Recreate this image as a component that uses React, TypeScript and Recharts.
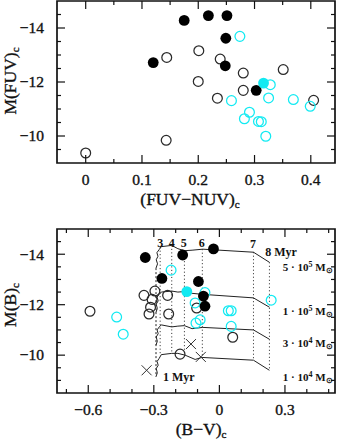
import React from 'react';
import { ScatterChart, Scatter, XAxis, YAxis, ReferenceArea } from 'recharts';

const SERIF = '"Liberation Serif", "Times New Roman", serif';
const CYAN = '#12eaf2';
const INK = '#111';

// ---- top panel: M(FUV) vs (FUV-NUV) ----
const fuvFilledBlack = [
  { x: 0.175, y: -14.28 }, { x: 0.218, y: -14.46 }, { x: 0.251, y: -14.46 },
  { x: 0.249, y: -13.62 }, { x: 0.12, y: -12.72 }, { x: 0.248, y: -12.6 },
  { x: 0.303, y: -11.69 },
];
const fuvFilledCyan = [{ x: 0.316, y: -11.96 }];
const fuvOpenBlack = [
  { x: 0.0, y: -9.37 }, { x: 0.143, y: -9.84 }, { x: 0.144, y: -12.91 },
  { x: 0.201, y: -13.16 }, { x: 0.2, y: -12.02 }, { x: 0.239, y: -12.85 },
  { x: 0.234, y: -11.4 }, { x: 0.28, y: -12.33 }, { x: 0.28, y: -11.69 },
  { x: 0.351, y: -12.46 }, { x: 0.405, y: -11.32 },
];
const fuvOpenCyan = [
  { x: 0.274, y: -13.69 }, { x: 0.328, y: -11.9 }, { x: 0.325, y: -11.41 },
  { x: 0.259, y: -11.31 }, { x: 0.291, y: -10.88 }, { x: 0.282, y: -10.64 },
  { x: 0.307, y: -10.54 }, { x: 0.312, y: -10.53 }, { x: 0.32, y: -9.99 },
  { x: 0.369, y: -11.35 }, { x: 0.399, y: -11.1 },
];
const fuvXDomain = [-0.051, 0.443];
const fuvYDomain = [-15, -9];
const fuvXTicks = [0, 0.05, 0.1, 0.15, 0.2, 0.25, 0.3, 0.35, 0.4];
const fuvXMajor = [0, 0.1, 0.2, 0.3, 0.4];
const fuvXLabels = ['0', '0.1', '0.2', '0.3', '0.4'];
const fuvYTicks = [-14.5, -14, -13.5, -13, -12.5, -12, -11.5, -11, -10.5, -10, -9.5];
const fuvYMajor = [-14, -12, -10];
const fuvYLabels = ['\u221214', '\u221212', '\u221210'];

// ---- bottom panel: M(B) vs (B-V) ----
const bvFilledBlack = [
  { x: -0.339, y: -13.87 }, { x: -0.263, y: -13.04 }, { x: -0.168, y: -13.97 },
  { x: -0.027, y: -14.21 }, { x: -0.096, y: -12.92 }, { x: -0.073, y: -12.34 },
  { x: -0.066, y: -11.94 },
];
const bvFilledCyan = [{ x: -0.149, y: -12.52 }];
const bvOpenBlack = [
  { x: -0.592, y: -11.74 }, { x: -0.345, y: -12.37 }, { x: -0.295, y: -12.54 },
  { x: -0.308, y: -12.21 }, { x: -0.315, y: -11.9 }, { x: -0.322, y: -11.63 },
  { x: -0.237, y: -12.37 }, { x: -0.232, y: -11.63 }, { x: -0.104, y: -11.87 },
  { x: 0.061, y: -10.71 }, { x: -0.18, y: -10.04 },
];
const bvOpenCyan = [
  { x: -0.221, y: -13.37 }, { x: -0.066, y: -12.48 }, { x: -0.111, y: -12.07 },
  { x: -0.088, y: -11.4 }, { x: -0.107, y: -11.27 }, { x: 0.041, y: -11.76 },
  { x: 0.054, y: -11.76 }, { x: 0.054, y: -11.14 }, { x: -0.47, y: -11.51 },
  { x: -0.44, y: -10.83 }, { x: 0.237, y: -12.18 },
];
const bvCross = [{ x: -0.333, y: -9.4 }, { x: -0.13, y: -10.44 }, { x: -0.085, y: -9.93 }];

const track5e5 = [
  { x: -0.29, y: -13.45 }, { x: -0.283, y: -13.62 }, { x: -0.289, y: -13.78 }, { x: -0.281, y: -13.92 },
  { x: -0.286, y: -14.06 }, { x: -0.276, y: -14.18 }, { x: -0.266, y: -14.3 }, { x: -0.218, y: -14.35 },
  { x: -0.19, y: -14.22 }, { x: -0.16, y: -14.14 }, { x: -0.125, y: -14.16 }, { x: -0.076, y: -14.2 },
  { x: 0.156, y: -14.08 }, { x: 0.229, y: -13.68 },
];
const track1e5 = [
  { x: -0.29, y: -11.7 }, { x: -0.284, y: -11.85 }, { x: -0.289, y: -12.02 }, { x: -0.28, y: -12.15 },
  { x: -0.285, y: -12.3 }, { x: -0.275, y: -12.42 }, { x: -0.266, y: -12.5 }, { x: -0.218, y: -12.54 },
  { x: -0.19, y: -12.5 }, { x: -0.16, y: -12.52 }, { x: -0.125, y: -12.45 }, { x: -0.076, y: -12.41 },
  { x: 0.156, y: -12.27 }, { x: 0.229, y: -11.9 },
];
const track3e4 = [
  { x: -0.29, y: -10.4 }, { x: -0.284, y: -10.55 }, { x: -0.289, y: -10.72 }, { x: -0.28, y: -10.85 },
  { x: -0.285, y: -11.0 }, { x: -0.275, y: -11.12 }, { x: -0.266, y: -11.2 }, { x: -0.218, y: -11.12 },
  { x: -0.19, y: -11.15 }, { x: -0.16, y: -11.17 }, { x: -0.125, y: -11.05 }, { x: -0.076, y: -11.1 },
  { x: 0.156, y: -11.0 }, { x: 0.229, y: -10.63 },
];
const track1e4 = [
  { x: -0.29, y: -9.15 }, { x: -0.284, y: -9.3 }, { x: -0.289, y: -9.47 }, { x: -0.28, y: -9.6 },
  { x: -0.285, y: -9.75 }, { x: -0.275, y: -9.88 }, { x: -0.266, y: -10.02 }, { x: -0.218, y: -10.07 },
  { x: -0.19, y: -10.07 }, { x: -0.157, y: -10.0 }, { x: -0.111, y: -9.83 }, { x: -0.08, y: -9.91 },
  { x: 0.156, y: -9.8 }, { x: 0.229, y: -9.4 },
];
const tracks = [track5e5, track1e5, track3e4, track1e4];

// isochrones (Myr) drawn dotted between the top and bottom tracks
const isoAges = [1, 3, 4, 5, 6, 7, 8];
const isoBV = [-0.29, -0.271, -0.218, -0.16, -0.078, 0.156, 0.229];
const isoTop = [-13.45, -14.28, -14.35, -14.14, -14.2, -14.08, -13.68];
const isoBottom = [-9.15, -10.0, -10.07, -10.0, -9.91, -9.8, -9.4];

const ageLabels = [
  { x: -0.271, y: -14.45, text: '3', anchor: 'middle' },
  { x: -0.218, y: -14.45, text: '4', anchor: 'middle' },
  { x: -0.163, y: -14.45, text: '5', anchor: 'middle' },
  { x: -0.081, y: -14.45, text: '6', anchor: 'middle' },
  { x: 0.154, y: -14.41, text: '7', anchor: 'middle' },
  { x: 0.21, y: -14.09, text: '8  Myr', anchor: 'start' },
  { x: -0.258, y: -9.16, text: '1  Myr', anchor: 'start' },
];
const massLabels = [
  { x: 0.29, y: -13.49, mant: '5', exp: '5' },
  { x: 0.29, y: -11.76, mant: '1', exp: '5' },
  { x: 0.29, y: -10.48, mant: '3', exp: '4' },
  { x: 0.29, y: -9.11, mant: '1', exp: '4' },
];

const bvXDomain = [-0.743, 0.529];
const bvYDomain = [-15, -8.5];
const bvXTicks = [-0.7, -0.6, -0.5, -0.4, -0.3, -0.2, -0.1, 0, 0.1, 0.2, 0.3, 0.4, 0.5];
const bvXMajor = [-0.6, -0.3, 0, 0.3];
const bvXLabels = ['\u22120.6', '\u22120.3', '0', '0.3'];
const bvYTicks = [-14.5, -14, -13.5, -13, -12.5, -12, -11.5, -11, -10.5, -10, -9.5, -9];
const bvYMajor = [-14, -12, -10];
const bvYLabels = ['\u221214', '\u221212', '\u221210'];

const PLOT_LEFT = 57;
const PLOT_RIGHT = 335;

const findMajor = (majors: number[], v: number) => majors.findIndex((m) => Math.abs(m - v) < 1e-6);

function xTick(majors: number[], labels: string[], top: number, bottom: number) {
  return (props: any) => {
    const { x, payload } = props;
    const i = findMajor(majors, payload.value);
    const len = i >= 0 ? 8 : 4;
    return (
      <g>
        <line x1={x} x2={x} y1={bottom} y2={bottom - len} stroke={INK} strokeWidth={1.2} />
        <line x1={x} x2={x} y1={top} y2={top + len} stroke={INK} strokeWidth={1.2} />
        {i >= 0 && (
          <text x={x} y={bottom + 22} textAnchor="middle" fontFamily={SERIF} fontSize={15.5}
            fill={INK} stroke={INK} strokeWidth={0.35}>
            {labels[i]}
          </text>
        )}
      </g>
    );
  };
}

function yTick(majors: number[], labels: string[]) {
  return (props: any) => {
    const { y, payload } = props;
    const i = findMajor(majors, payload.value);
    const len = i >= 0 ? 8 : 4;
    return (
      <g>
        <line x1={PLOT_LEFT} x2={PLOT_LEFT + len} y1={y} y2={y} stroke={INK} strokeWidth={1.2} />
        <line x1={PLOT_RIGHT} x2={PLOT_RIGHT - len} y1={y} y2={y} stroke={INK} strokeWidth={1.2} />
        {i >= 0 && (
          <text x={PLOT_LEFT - 13} y={y} dy="0.34em" textAnchor="end" fontFamily={SERIF} fontSize={15.5}
            fill={INK} stroke={INK} strokeWidth={0.35}>
            {labels[i]}
          </text>
        )}
      </g>
    );
  };
}

const openCircle = (color: string) => (p: any) => (
  <circle cx={p.cx} cy={p.cy} r={4.9} fill="none" stroke={color} strokeWidth={1.25} />
);
const filledCircle = (color: string) => (p: any) => <circle cx={p.cx} cy={p.cy} r={5.4} fill={color} />;
const crossMark = (p: any) => (
  <path
    d={`M${p.cx - 5},${p.cy - 5}L${p.cx + 5},${p.cy + 5}M${p.cx - 5},${p.cy + 5}L${p.cx + 5},${p.cy - 5}`}
    stroke="#333"
    strokeWidth={1}
    fill="none"
  />
);
const noMark = () => <g />;
const textMark = (p: any) => {
  const d = p.payload ?? p;
  return (
    <text x={p.cx} y={p.cy} dy="0.35em" textAnchor={d.anchor} fontFamily={SERIF} fontWeight="bold" fontSize={12} fill={INK}>
      {d.text}
    </text>
  );
};
const massMark = (p: any) => {
  const d = p.payload ?? p;
  return (
    <text x={p.cx} y={p.cy} dy="0.35em" fontFamily={SERIF} fontWeight="bold" fontSize={11} fill={INK}>
      {d.mant} {'\u00b7'} 10
      <tspan fontSize={8} dy={-4}>{d.exp}</tspan>
      <tspan dy={4}> M</tspan>
      <tspan fontSize={8} dy={2}>{'\u2299'}</tspan>
    </text>
  );
};

export default function App() {
  const isochrones = isoAges.map((age, i) => ({
    age,
    pts: [
      { x: isoBV[i], y: isoTop[i] },
      { x: isoBV[i], y: isoBottom[i] },
    ],
  }));

  return (
    <div style={{ position: 'absolute', left: 0, top: 0, width: 338, height: 439, background: '#fff' }}>
      <div style={{ position: 'absolute', left: 0, top: 0 }}>
        <ScatterChart width={338} height={220} margin={{ top: 1, right: 3, bottom: 0, left: 0 }}>
          <XAxis
            type="number"
            dataKey="x"
            domain={fuvXDomain}
            allowDataOverflow
            ticks={fuvXTicks}
            interval={0}
            tick={xTick(fuvXMajor, fuvXLabels, 1, 163)}
            tickLine={false}
            axisLine={false}
            height={57}
          />
          <YAxis
            type="number"
            dataKey="y"
            domain={fuvYDomain}
            allowDataOverflow
            reversed
            ticks={fuvYTicks}
            interval={0}
            tick={yTick(fuvYMajor, fuvYLabels)}
            tickLine={false}
            axisLine={false}
            width={57}
          />
          <ReferenceArea
            x1={fuvXDomain[0]}
            x2={fuvXDomain[1]}
            y1={fuvYDomain[0]}
            y2={fuvYDomain[1]}
            fill="none"
            stroke={INK}
            strokeWidth={1.7}
            fillOpacity={0}
          />
          <Scatter data={fuvOpenBlack} shape={openCircle('#2a2a2a')} isAnimationActive={false} />
          <Scatter data={fuvOpenCyan} shape={openCircle(CYAN)} isAnimationActive={false} />
          <Scatter data={fuvFilledBlack} shape={filledCircle('#000')} isAnimationActive={false} />
          <Scatter data={fuvFilledCyan} shape={filledCircle(CYAN)} isAnimationActive={false} />
        </ScatterChart>
      </div>

      <div style={{ position: 'absolute', left: 0, top: 220 }}>
        <ScatterChart width={338} height={219} margin={{ top: 9, right: 3, bottom: 0, left: 0 }}>
          <XAxis
            type="number"
            dataKey="x"
            domain={bvXDomain}
            allowDataOverflow
            ticks={bvXTicks}
            interval={0}
            tick={xTick(bvXMajor, bvXLabels, 9, 173)}
            tickLine={false}
            axisLine={false}
            height={46}
          />
          <YAxis
            type="number"
            dataKey="y"
            domain={bvYDomain}
            allowDataOverflow
            reversed
            ticks={bvYTicks}
            interval={0}
            tick={yTick(bvYMajor, bvYLabels)}
            tickLine={false}
            axisLine={false}
            width={57}
          />
          <ReferenceArea
            x1={bvXDomain[0]}
            x2={bvXDomain[1]}
            y1={bvYDomain[0]}
            y2={bvYDomain[1]}
            fill="none"
            stroke={INK}
            strokeWidth={1.7}
            fillOpacity={0}
          />
          {isochrones.map((iso) => (
            <Scatter
              key={`iso-${iso.age}`}
              data={iso.pts}
              shape={noMark}
              line={{ stroke: '#222', strokeWidth: 1, strokeDasharray: iso.age === 1 ? '2 2' : '1 2.5' }}
              isAnimationActive={false}
            />
          ))}
          {tracks.map((t, i) => (
            <Scatter
              key={`track-${i}`}
              data={t}
              shape={noMark}
              line={{ stroke: '#222', strokeWidth: 1 }}
              isAnimationActive={false}
            />
          ))}
          <Scatter data={bvOpenBlack} shape={openCircle('#2a2a2a')} isAnimationActive={false} />
          <Scatter data={bvOpenCyan} shape={openCircle(CYAN)} isAnimationActive={false} />
          <Scatter data={bvCross} shape={crossMark} isAnimationActive={false} />
          <Scatter data={bvFilledBlack} shape={filledCircle('#000')} isAnimationActive={false} />
          <Scatter data={bvFilledCyan} shape={filledCircle(CYAN)} isAnimationActive={false} />
          <Scatter data={ageLabels} shape={textMark} isAnimationActive={false} />
          <Scatter data={massLabels} shape={massMark} isAnimationActive={false} />
        </ScatterChart>
      </div>

      <svg width={338} height={439} style={{ position: 'absolute', left: 0, top: 0, pointerEvents: 'none' }}>
        <g fontFamily={SERIF} fontSize={17.5} fill={INK} stroke={INK} strokeWidth={0.35}>
          <text x={190} y={205} textAnchor="middle">
            (FUV{'\u2212'}NUV)<tspan fontSize={11} dy={3}>c</tspan>
          </text>
          <text transform="translate(16,81) rotate(-90)" textAnchor="middle">
            M(FUV)<tspan fontSize={11} dy={3}>c</tspan>
          </text>
          <text x={201} y={435} textAnchor="middle">
            (B{'\u2212'}V)<tspan fontSize={11} dy={3}>c</tspan>
          </text>
          <text transform="translate(16,305) rotate(-90)" textAnchor="middle">
            M(B)<tspan fontSize={11} dy={3}>c</tspan>
          </text>
        </g>
      </svg>
    </div>
  );
}
